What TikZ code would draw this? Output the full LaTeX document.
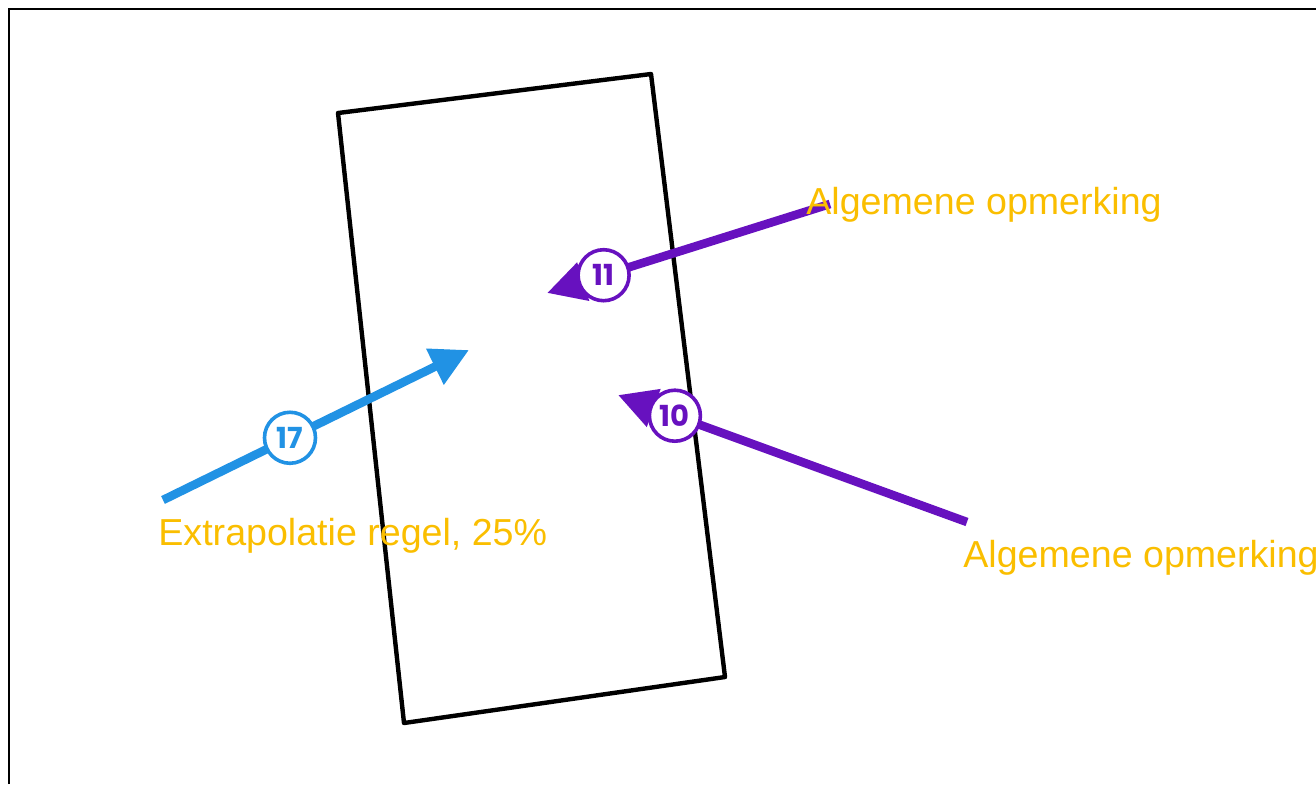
\documentclass[tikz,border=0pt]{standalone}
\usepackage{fontspec}
\setmainfont{Liberation Sans}
\newfontfamily\badgefont{Poppins}
\usetikzlibrary{arrows.meta}
\definecolor{markblue}{RGB}{33,146,228}
\definecolor{markpurple}{RGB}{103,17,191}
\definecolor{noteyellow}{RGB}{250,190,0}
\tikzset{
  badge/.style={circle, draw=#1, fill=white, line width=1.8pt, minimum size=25.5pt,
    inner sep=0pt, text=#1, font=\badgefont\bfseries\fontsize{14.5}{14.5}\selectfont},
  pointer/.style={draw=#1, line width=4.3pt, -{Triangle[length=19pt,width=19pt]}},
  note/.style={text=noteyellow, anchor=base west, inner sep=0pt,
    font=\fontsize{18.8}{20}\selectfont},
}

\begin{document}
\begin{tikzpicture}[x=0.5pt, y=-0.5pt]
\useasboundingbox (0, 0) rectangle (1316, 784);
\draw[line width=1.25pt] (9, 784) -- (9, 9) -- (1316, 9);

% the sheet
\path (338, 113) coordinate (nw) (651, 74) coordinate (ne)
      (725, 677) coordinate (se) (404, 723) coordinate (sw);
\draw[line width=2.2pt, line join=round] (nw) -- (ne) -- (se) -- (sw) -- cycle;

% markers
\path (163, 500) coordinate (tail17) (469, 350) coordinate (tip17);
\path (830, 204) coordinate (tail11) (547, 293) coordinate (tip11);
\path (967, 522) coordinate (tail10) (618, 395) coordinate (tip10);
\draw[pointer=markblue] (tail17) -- (tip17) node[badge=markblue, pos=0.415]{17};
\draw[pointer=markpurple] (tail11) -- (tip11) node[badge=markpurple, pos=0.80]{11};
\draw[pointer=markpurple] (tail10) -- (tip10) node[badge=markpurple, pos=0.837]{10};

\node[note] (note11) at (806, 214) {Algemene opmerking};
\node[note] (note10) at (963, 567) {Algemene opmerking};
\node[note] (note17) at (158, 545) {Extrapolatie regel, 25\%};
\end{tikzpicture}
\end{document}
